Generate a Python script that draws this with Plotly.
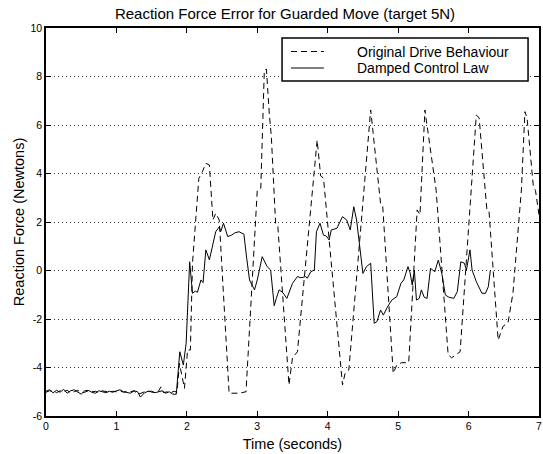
import plotly.graph_objects as go

# ---------------- data ----------------
orig_t = [0.00, 0.05, 0.10, 0.15, 0.20, 0.25, 0.30, 0.35, 0.40, 0.45, 0.50, 0.55, 0.60, 0.65,
          0.70, 0.75, 0.80, 0.85, 0.90, 0.95, 1.00, 1.05, 1.10, 1.15, 1.20, 1.25, 1.30, 1.35,
          1.40, 1.45, 1.50, 1.55, 1.60, 1.63, 1.67, 1.72, 1.77, 1.82, 1.86,
          1.895, 1.966, 2.01, 2.05, 2.08, 2.17, 2.22, 2.27, 2.32, 2.37, 2.41, 2.46,
          2.60, 2.74, 2.84, 3.00, 3.05, 3.10, 3.13, 3.17, 3.20, 3.26, 3.29,
          3.45, 3.50, 3.57, 3.85, 3.90, 3.94, 4.21, 4.25, 4.30, 4.61, 4.64, 4.75, 4.78,
          4.93, 4.98, 5.05, 5.15, 5.27, 5.31, 5.38, 5.40, 5.52, 5.54, 5.71, 5.76, 5.88,
          6.11, 6.15, 6.26, 6.29, 6.42, 6.49, 6.56, 6.63, 6.75, 6.80, 6.83, 6.92, 6.95, 7.00]
orig_v = [-5.02, -4.96, -4.98, -5.04, -4.96, -5.00, -4.94, -5.04, -5.00, -4.94, -5.04, -5.02, -4.96, -5.00,
          -4.98, -5.04, -4.96, -5.00, -5.02, -4.98, -5.00, -4.96, -5.02, -4.98, -5.00, -4.96, -5.10, -5.06,
          -5.00, -4.98, -5.02, -5.04, -4.96, -4.80, -5.04, -5.00, -5.04, -4.98, -5.02,
          -3.83, -4.86, -3.28, -3.28, 0.30, 3.80, 4.07, 4.42, 4.35, 2.08, 2.36, 2.08,
          -5.06, -5.06, -5.00, 3.32, 3.40, 8.27, 8.30, 6.48, 5.50, 1.95, 1.90,
          -4.72, -3.60, -3.35, 5.38, 3.90, 3.81, -4.72, -4.20, -4.10, 6.62, 5.80, 2.77, 2.70,
          -4.24, -3.90, -3.80, -3.80, 2.50, 2.30, 6.62, 6.20, 3.53, 3.30, -3.48, -3.60, -3.35,
          6.41, 6.30, 2.50, 2.45, -2.87, -2.30, -2.16, -0.94, 3.32, 6.55, 6.30, 3.46, 3.30, 2.30]

damp_t = [0.00, 0.05, 0.10, 0.15, 0.20, 0.25, 0.30, 0.35, 0.40, 0.45, 0.50, 0.55, 0.60, 0.65,
          0.70, 0.75, 0.80, 0.85, 0.90, 0.95, 1.00, 1.05, 1.10, 1.15, 1.20, 1.25, 1.30, 1.34,
          1.40, 1.45, 1.50, 1.55, 1.60, 1.65, 1.70, 1.75, 1.80,
          1.85, 1.90, 1.95, 1.99, 2.04, 2.08, 2.12, 2.15, 2.20, 2.23, 2.27, 2.32, 2.37, 2.41,
          2.46, 2.48, 2.52, 2.58, 2.63, 2.68, 2.74, 2.81, 2.85, 2.89, 2.96, 3.00, 3.07, 3.14,
          3.19, 3.24, 3.27, 3.31, 3.36, 3.42, 3.50, 3.57, 3.62, 3.69, 3.71, 3.76, 3.81, 3.84,
          3.89, 3.94, 3.98, 4.02, 4.05, 4.13, 4.21, 4.27, 4.32, 4.37, 4.41, 4.47, 4.50, 4.55,
          4.61, 4.66, 4.70, 4.75, 4.79, 4.85, 4.91, 4.98, 5.04, 5.08, 5.14, 5.17, 5.20, 5.23,
          5.26, 5.30, 5.33, 5.37, 5.41, 5.46, 5.52, 5.57, 5.62, 5.67, 5.72, 5.79, 5.84, 5.89,
          5.94, 5.97, 6.02, 6.05, 6.11, 6.19, 6.24, 6.28, 6.31]
damp_v = [-4.98, -4.92, -5.04, -4.94, -5.02, -4.90, -5.06, -4.96, -4.92, -5.00, -5.10, -4.96, -4.94, -5.02,
          -5.06, -4.96, -5.00, -5.04, -4.98, -5.02, -4.96, -4.92, -5.00, -5.02, -5.06, -4.96, -5.00, -5.22,
          -5.04, -4.98, -4.98, -5.04, -5.00, -4.96, -5.06, -5.00, -5.10,
          -5.10, -3.35, -3.90, -3.00, 0.36, -0.94, -0.85, -0.90, -0.39, -0.50, 0.85, 0.44, 1.10, 1.60,
          1.80, 1.60, 1.95, 1.40, 1.45, 1.55, 1.60, 1.50, 0.50, -0.39, -0.80, -0.39, 0.57, 0.16,
          0.02, -1.45, -1.15, -0.80, -0.90, -1.15, -0.53, -0.25, -0.30, -0.25, -0.32, -0.05, 0.02, 1.60,
          1.95, 1.46, 1.42, 1.26, 1.67, 1.74, 2.22, 2.08, 1.67, 2.63, 2.08, 0.43, -0.12, 0.16,
          0.30, -2.18, -2.10, -1.63, -1.84, -1.49, -1.22, -1.08, -0.53, -0.39, 0.16, -0.10, -0.60, 0.02,
          -1.22, -1.15, -0.80, -1.10, -1.15, 0.09, -0.05, 0.43, -0.12, -1.01, -1.10, -1.15, -0.87, 0.36,
          0.30, 0.02, 0.85, 0.02, -0.46, -0.94, -0.94, -0.67, 0.02]

x_ticks = [0, 1, 2, 3, 4, 5, 6, 7]
x_tick_labels = ["0", "1", "2", "3", "4", "5", "6", "7"]
y_ticks = [-6, -4, -2, 0, 2, 4, 6, 8, 10]
y_tick_labels = ["-6", "-4", "-2", "0", "2", "4", "6", "8", "10"]

series_names = ["Original Drive Behaviour", "Damped Control Law"]
series_dash = ["6px,4px", "solid"]

# ---------------- figure ----------------
FONT = "Liberation Sans, Arial, Helvetica, sans-serif"

fig = go.Figure()
fig.add_trace(go.Scatter(x=orig_t, y=orig_v, mode="lines", name=series_names[0],
                         line=dict(color="black", width=1, dash=series_dash[0]), showlegend=False))
fig.add_trace(go.Scatter(x=damp_t, y=damp_v, mode="lines", name=series_names[1],
                         line=dict(color="black", width=1, dash=series_dash[1]), showlegend=False))

axis_common = dict(showline=True, linecolor="black", linewidth=1.5, mirror="ticks",
                   ticks="inside", ticklen=5, tickwidth=1, tickcolor="black",
                   zeroline=False, tickfont=dict(family=FONT, size=10.5, color="black"))

fig.update_xaxes(range=[0, 7], tickvals=x_ticks, ticktext=x_tick_labels, showgrid=False,
                 title=dict(text="Time (seconds)", font=dict(family=FONT, size=14.5, color="black"),
                            standoff=8),
                 **axis_common)
fig.update_yaxes(range=[-6, 10], tickvals=y_ticks, ticktext=y_tick_labels, showgrid=True,
                 gridcolor="#333333", gridwidth=1, griddash="1px,3px",
                 title=dict(text="Reaction Force (Newtons)", font=dict(family=FONT, size=14.5, color="black"),
                            standoff=2),
                 **axis_common)

# ---- legend box (drawn in plot-area paper coordinates) ----
PL, PR, PT, PB = 46, 541, 28, 416          # plot area in pixels
def px(xp):
    return (xp - PL) / (PR - PL)
def py(yp):
    return (PB - yp) / (PB - PT)

fig.add_shape(type="rect", xref="paper", yref="paper",
              x0=px(283), x1=px(530), y0=py(81), y1=py(38),
              line=dict(color="black", width=1.5), fillcolor="white", layer="above")
row_y = [51.5, 68]
for i, name in enumerate(series_names):
    fig.add_shape(type="line", xref="paper", yref="paper",
                  x0=px(292), x1=px(325), y0=py(row_y[i]), y1=py(row_y[i]),
                  line=dict(color="black", width=1, dash=series_dash[i]), layer="above")
    fig.add_annotation(text=name, xref="paper", yref="paper", x=px(357), y=py(row_y[i]),
                       xanchor="left", yanchor="middle", showarrow=False, borderpad=0,
                       font=dict(family=FONT, size=14, color="black"))

fig.update_layout(
    width=543, height=454,
    margin=dict(l=46, r=2, t=28, b=38),
    paper_bgcolor="white", plot_bgcolor="white",
    title=dict(text="Reaction Force Error for Guarded Move (target 5N)",
               font=dict(family=FONT, size=15, color="black"),
               x=285 / 543, xanchor="center", y=1 - 14 / 454, yanchor="middle"),
    showlegend=False,
)

fig.write_html("out.html", config={"displayModeBar": False},
               post_script="document.body.style.margin='0';document.body.style.overflow='hidden';")
